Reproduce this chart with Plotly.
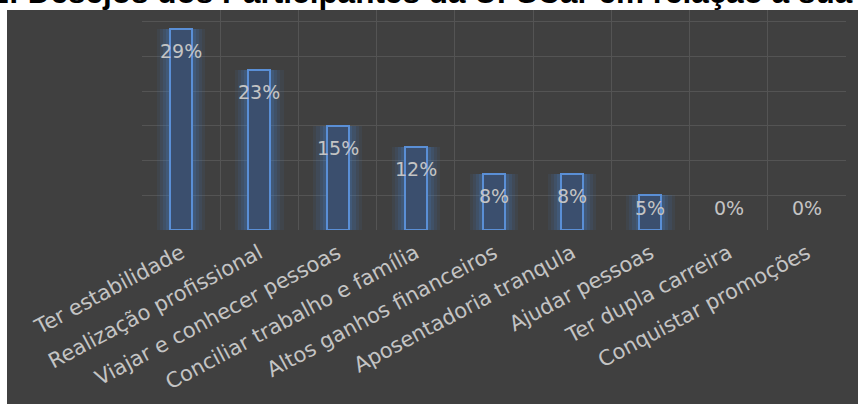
import plotly.graph_objects as go

categories = ["Ter estabilidade", "Realização profissional", "Viajar e conhecer pessoas",
              "Conciliar trabalho e família", "Altos ganhos financeiros",
              "Aposentadoria tranqula", "Ajudar pessoas", "Ter dupla carreira",
              "Conquistar promoções"]
values = [0.29, 0.23, 0.15, 0.12, 0.08, 0.08, 0.05, 0.0, 0.0]
value_labels = ["29%", "23%", "15%", "12%", "8%", "8%", "5%", "0%", "0%"]
title_text = "1: Desejos dos Participantes da UFSCar em relação à sua carreira"

W, H = 858, 404
L, R, T, B = 142, 12, 10, 172
plot_w = W - L - R
plot_h = H - T - B
y_max = 0.317

fig = go.Figure()

# glow layers
glow = [(0.62, 0.08), (0.54, 0.10), (0.46, 0.13), (0.38, 0.17)]
for w, a in glow:
    fig.add_trace(go.Bar(x=categories, y=values, width=w,
                         marker=dict(color=f"rgba(70,130,210,{a})", line=dict(width=0)),
                         hoverinfo="skip", showlegend=False))

fig.add_trace(go.Bar(x=categories, y=values, width=0.28,
                     marker=dict(color="#3b4f6e",
                                 line=dict(color="#5a8fd6",
                                           width=[2 if v > 0 else 0 for v in values])),
                     showlegend=False))

# data labels
px_per_unit = plot_h / y_max
off = 22 / px_per_unit
for c, v, t in zip(categories, values, value_labels):
    fig.add_annotation(x=c, y=max(v - off, off), text=t, showarrow=False,
                       xref="x", yref="y", yanchor="middle",
                       font=dict(family="DejaVu Sans", size=19, color="#c4c4c4"))

# title (cropped at top)
fig.add_annotation(xref="paper", yref="paper", x=(-11 - L) / plot_w,
                   y=(T + plot_h + 8) / plot_h, xanchor="left", yanchor="middle",
                   text=title_text, showarrow=False,
                   font=dict(family="Liberation Sans", size=31.5, color="#000000", weight="bold"))

# dark background panel
fig.add_shape(type="rect", xref="paper", yref="paper", layer="below",
              x0=(7 - L) / plot_w, x1=(W + 5 - L) / plot_w,
              y0=-(B + 5) / plot_h, y1=1.0,
              fillcolor="#404040", line=dict(width=0))

fig.update_layout(
    width=W, height=H,
    margin=dict(l=L, r=R, t=T, b=B),
    paper_bgcolor="white", plot_bgcolor="rgba(0,0,0,0)",
    barmode="overlay", bargap=0,
    xaxis=dict(tickson="boundaries", showgrid=True, gridcolor="#545454", gridwidth=1,
               tickangle=-28, ticks="", ticklabelstandoff=6,
               tickfont=dict(family="DejaVu Sans", size=21, color="#c4c4c4"),
               showline=False, zeroline=False),
    yaxis=dict(range=[0, y_max], tickvals=[0.05, 0.10, 0.15, 0.20, 0.25, 0.30],
               showticklabels=False, showgrid=True, gridcolor="#545454", gridwidth=1,
               zeroline=False, showline=False),
)

fig.write_html("out.html", config={"displayModeBar": False},
               post_script="document.body.style.margin='0';document.body.style.padding='0';")
